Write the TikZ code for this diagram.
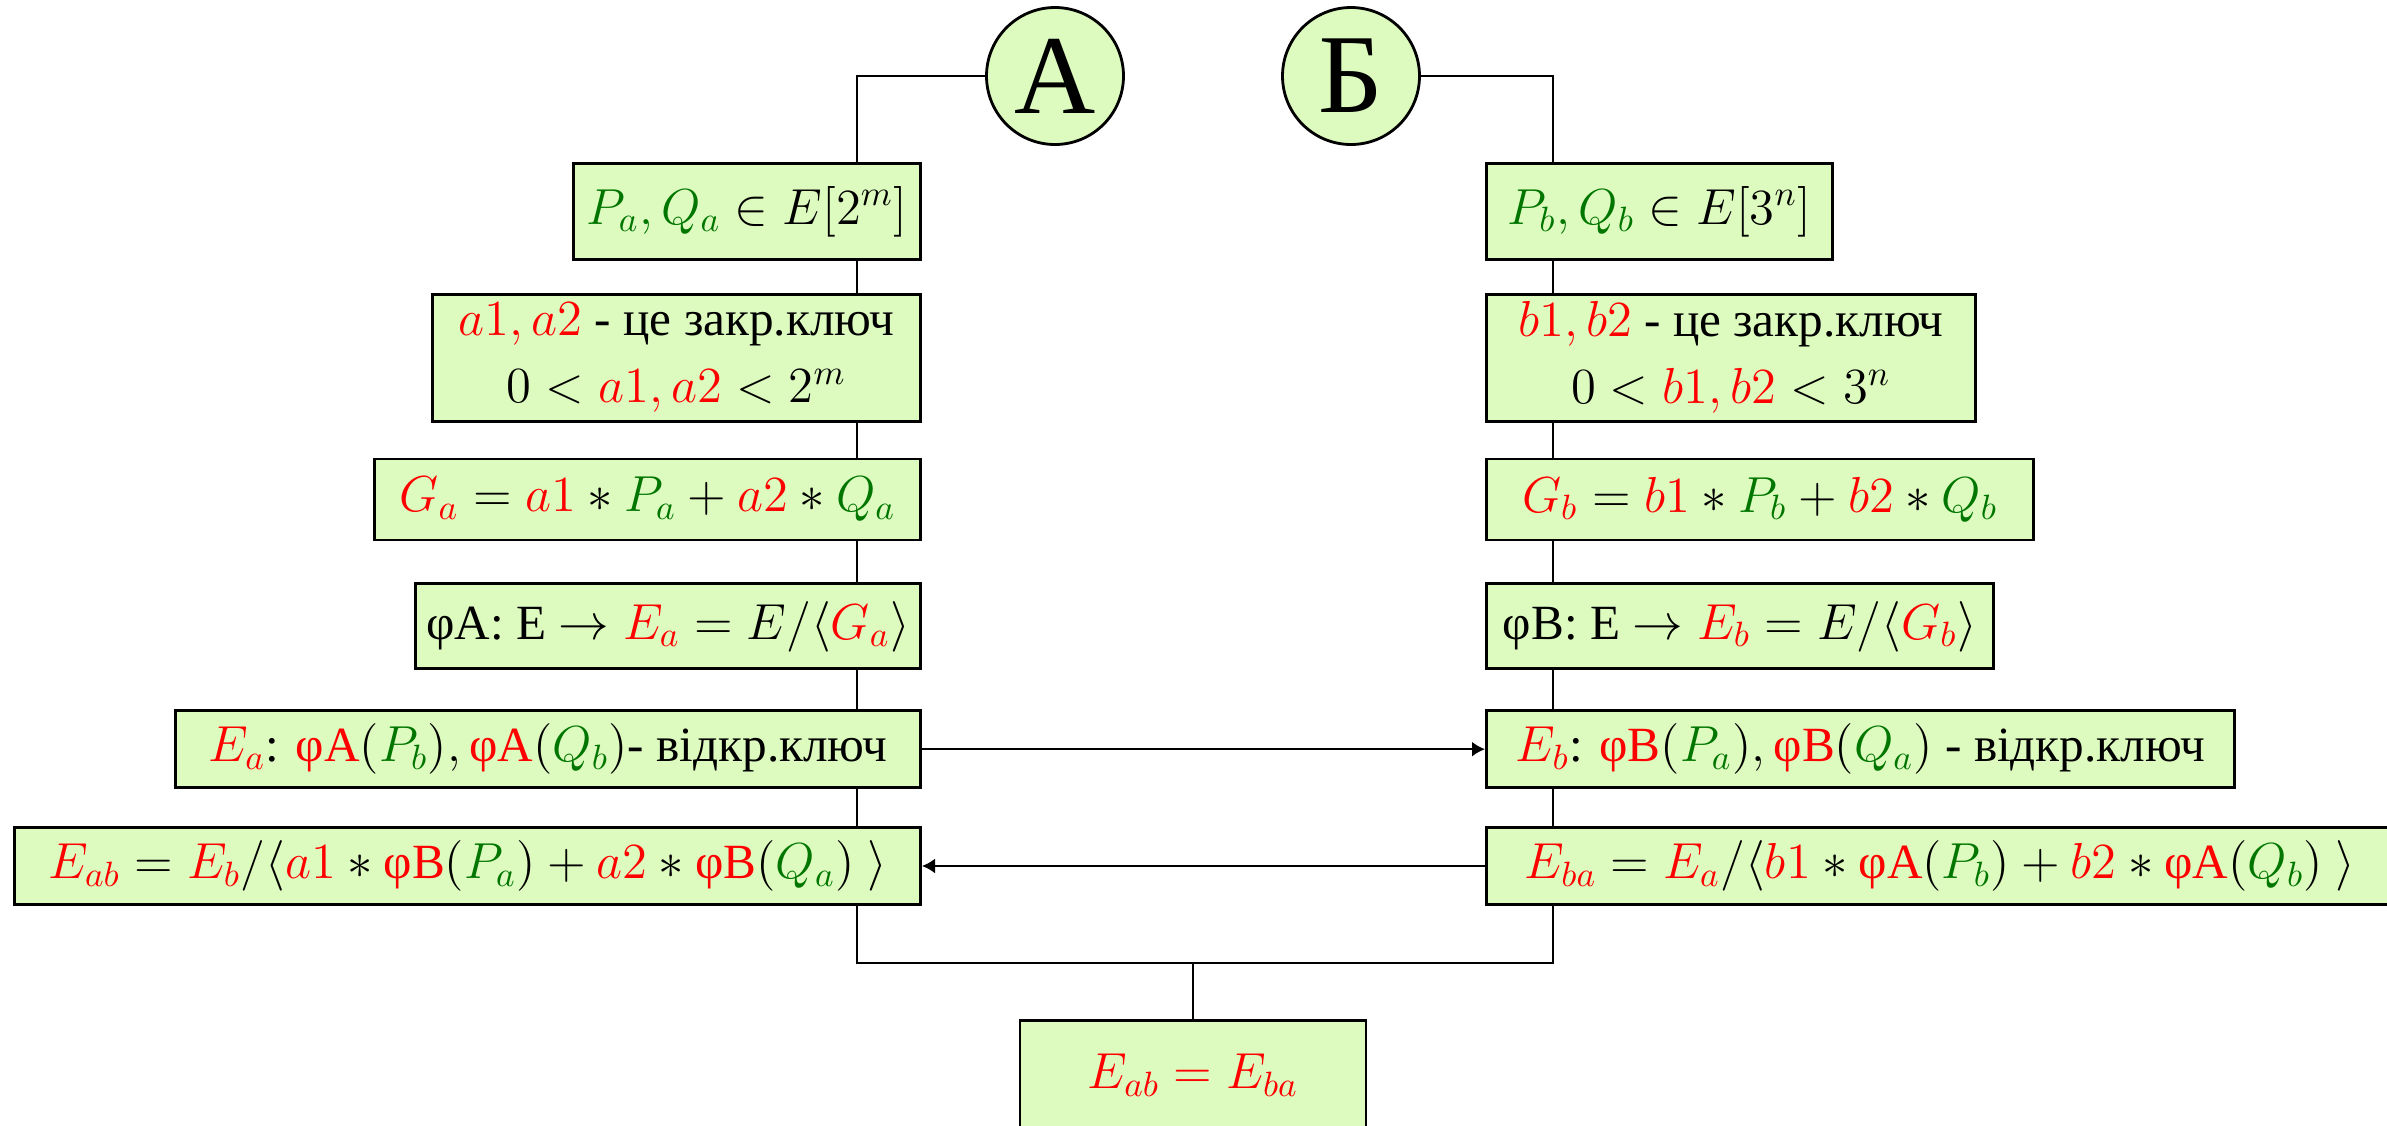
\documentclass[tikz,border=0pt]{standalone}
\usepackage{fontspec}
\setmainfont{Liberation Serif}
\usepackage{amsmath}
\usepackage{xcolor}
\usepackage{tikz}
\usetikzlibrary{arrows.meta, positioning}

\definecolor{boxfill}{HTML}{DDFBBF}
\definecolor{keyred}{RGB}{255,0,0}
\definecolor{ptgreen}{RGB}{0,118,0}
\newcommand{\kr}[1]{\textcolor{keyred}{#1}}
\newcommand{\pg}[1]{\textcolor{ptgreen}{#1}}
\newcommand{\iso}[1]{\text{φ#1}}

\begin{document}
\begin{tikzpicture}[
  node distance=0.35cm,
  box/.style={draw, line width=0.8pt, fill=boxfill, inner sep=2pt, align=center, font=\fontsize{14}{19}\selectfont},
  party/.style={draw, circle, line width=0.8pt, fill=boxfill, minimum size=1.37cm, inner sep=0pt, font=\fontsize{32}{34}\selectfont},
  line/.style={line width=0.6pt},
  arrow/.style={-{Latex[length=1.3mm, width=1.5mm]}, line width=0.6pt},
]
\useasboundingbox (0,0) rectangle (23.87,-11.25);

% Parties
\node[party] (ca) at (10.55,-0.76) {А};
\node[party] (cb) at (13.51,-0.76) {Б};
\coordinate (la) at (8.57,0);
\coordinate (lb) at (15.53,0);

% Left column
\node[box, anchor=north east, minimum width=3.47cm, minimum height=0.96cm] (pa) at (9.22,-1.62) {$\pg{P_a, Q_a} \in E[2^m]$};
\node[box, below=0.32cm of pa.south east, anchor=north east, minimum width=4.88cm, minimum height=1.27cm] (akey) {$\kr{a1, a2}$ - це закр.ключ\\ $0 < \kr{a1, a2} < 2^m$};
\node[box, below=0.35cm of akey.south east, anchor=north east, minimum width=5.46cm, minimum height=0.81cm] (ga) {$\kr{G_a} = \kr{a1} \ast \pg{P_a} + \kr{a2} \ast \pg{Q_a}$};
\node[box, below=0.41cm of ga.south east, anchor=north east, minimum width=5.05cm, minimum height=0.85cm] (phia) {φA: E $\rightarrow \kr{E_a} = E/\langle \kr{G_a} \rangle$};
\node[box, below=0.39cm of phia.south east, anchor=north east, minimum width=7.45cm, minimum height=0.77cm] (ea) {$\kr{E_a}$: $\kr{\iso{A}}(\pg{P_b}), \kr{\iso{A}}(\pg{Q_b})$- відкр.ключ};
\node[box, below=0.37cm of ea.south east, anchor=north east, minimum width=9.06cm, minimum height=0.77cm] (eab) {$\kr{E_{ab}} = \kr{E_b}/\langle \kr{a1} \ast \kr{\iso{B}}(\pg{P_a}) + \kr{a2} \ast \kr{\iso{B}}(\pg{Q_a})\ \rangle$};

% Right column
\node[box, anchor=north west, minimum width=3.46cm, minimum height=0.96cm] (pb) at (14.85,-1.62) {$\pg{P_b, Q_b} \in E[3^n]$};
\node[box, below=0.32cm of pb.south west, anchor=north west, minimum width=4.89cm, minimum height=1.27cm] (bkey) {$\kr{b1, b2}$ - це закр.ключ\\ $0 < \kr{b1, b2} < 3^n$};
\node[box, below=0.35cm of bkey.south west, anchor=north west, minimum width=5.47cm, minimum height=0.81cm] (gb) {$\kr{G_b} = \kr{b1} \ast \pg{P_b} + \kr{b2} \ast \pg{Q_b}$};
\node[box, below=0.41cm of gb.south west, anchor=north west, minimum width=5.07cm, minimum height=0.85cm] (phib) {φB: E $\rightarrow \kr{E_b} = E/\langle \kr{G_b} \rangle$};
\node[box, below=0.39cm of phib.south west, anchor=north west, minimum width=7.48cm, minimum height=0.77cm] (eb) {$\kr{E_b}$: $\kr{\iso{B}}(\pg{P_a}), \kr{\iso{B}}(\pg{Q_a})$ - відкр.ключ};
\node[box, below=0.37cm of eb.south west, anchor=north west, minimum width=9.07cm, minimum height=0.77cm] (eba) {$\kr{E_{ba}} = \kr{E_a}/\langle \kr{b1} \ast \kr{\iso{A}}(\pg{P_b}) + \kr{b2} \ast \kr{\iso{A}}(\pg{Q_b})\ \rangle$};

% Shared key
\node[box, anchor=north, minimum width=3.46cm, minimum height=1.10cm] (fin) at (11.93,-10.19) {$\kr{E_{ab} = E_{ba}}$};
\coordinate (mid) at (11.96,-9.63);

% Connectors
\draw[line] (ca.west) -| (pa.north -| la);
\draw[line] (cb.east) -| (pb.north -| lb);
\draw[line] (pa.south -| la) -- (akey.north -| la);
\draw[line] (akey.south -| la) -- (ga.north -| la);
\draw[line] (ga.south -| la) -- (phia.north -| la);
\draw[line] (phia.south -| la) -- (ea.north -| la);
\draw[line] (ea.south -| la) -- (eab.north -| la);
\draw[line] (pb.south -| lb) -- (bkey.north -| lb);
\draw[line] (bkey.south -| lb) -- (gb.north -| lb);
\draw[line] (gb.south -| lb) -- (phib.north -| lb);
\draw[line] (phib.south -| lb) -- (eb.north -| lb);
\draw[line] (eb.south -| lb) -- (eba.north -| lb);
\draw[line] (eab.south -| la) |- (mid) -| (eba.south -| lb);
\draw[line] (mid) -- (fin.north |- mid) -- (fin.north);

% Key exchange
\draw[arrow] (ea.east) -- (eb.west);
\draw[arrow] (eba.west) -- (eab.east);

\end{tikzpicture}
\end{document}
